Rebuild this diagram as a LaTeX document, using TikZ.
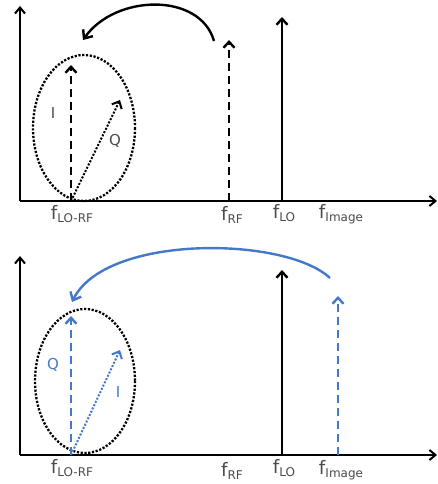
\documentclass[tikz,border=0pt]{standalone}
\usepackage{fontspec}
\setmainfont{DejaVu Sans}
\usetikzlibrary{arrows.meta}
\definecolor{txtgray}{RGB}{75,75,75}
\definecolor{oblue}{RGB}{68,120,200}
\tikzset{
  axis/.style={line width=2pt,-{Straight Barb[length=6pt,width=10pt]}},
  vec/.style={line width=2.4pt,-{Straight Barb[length=6pt,width=11pt]}},
  dashvec/.style={vec,dash pattern=on 8pt off 5pt},
  dotvec/.style={vec,line width=2pt,dash pattern=on 2pt off 1.6pt},
  lbl/.style={text=txtgray,font=\fontsize{18.5}{19}\selectfont,inner sep=0pt},
  vlbl/.style={text=txtgray,font=\fontsize{15}{16}\selectfont,inner sep=0pt},
  curvearrow/.style={line width=2.4pt,-{Straight Barb[length=7pt,width=12pt]}},
  ringline/.style={line width=2.3pt,dash pattern=on 2.2pt off 1.6pt}
}
\newcommand{\fsub}[1]{f\raisebox{-3.5pt}{\fontsize{12}{12}\selectfont #1}}
\begin{document}
\begin{tikzpicture}[x=1pt,y=-1pt]
\useasboundingbox (0,0) rectangle (437,484);
% ---------- top panel ----------
\coordinate (o1) at (20,201);
\coordinate (y1) at (20,6);
\coordinate (x1) at (437,201);
\draw[axis] (o1) -- (y1);
\draw[axis] (o1) -- (x1);
\coordinate (a1) at (71,201);
\coordinate (it) at (71,65);
\coordinate (qt) at (120,100);
\coordinate (rf1) at (229,201);
\coordinate (rft) at (229,40);
\coordinate (lo1) at (282,201);
\coordinate (lot) at (282,17);
\draw[dashvec] (a1) -- (it);
\draw[dotvec] (a1) -- (qt);
\draw[dashvec] (rf1) -- (rft);
\draw[vec] (lo1) -- (lot);
\draw[ringline] (84,128) ellipse [x radius=51, y radius=73];
\coordinate (c1s) at (214,41);
\coordinate (c1e) at (83,40);
\draw[curvearrow] (c1s) .. controls (200,-8) and (115,-6) .. (c1e);
\node[vlbl] (il1) at (53,113) {I};
\node[vlbl] (ql1) at (115,141) {Q};
\node[lbl] (fa1) at (72,214) {\fsub{LO-RF}};
\node[lbl] (fb1) at (232,215) {\fsub{RF}};
\node[lbl] (fc1) at (284,213) {\fsub{LO}};
\node[lbl] (fd1) at (341,214) {\fsub{Image}};
% ---------- bottom panel ----------
\coordinate (o2) at (20,455);
\coordinate (y2) at (20,256);
\coordinate (x2) at (437,455);
\draw[axis] (o2) -- (y2);
\draw[axis] (o2) -- (x2);
\coordinate (a2) at (71,455);
\coordinate (qt2) at (71,316);
\coordinate (it2) at (120,350);
\coordinate (lo2) at (282,455);
\coordinate (lot2) at (282,270);
\coordinate (im2) at (338,455);
\coordinate (imt2) at (338,296);
\draw[ringline] (85,381) ellipse [x radius=50, y radius=72];
\draw[dashvec,oblue] (a2) -- (qt2);
\draw[dotvec,oblue] (a2) -- (it2);
\draw[vec] (lo2) -- (lot2);
\draw[dashvec,oblue] (im2) -- (imt2);
\coordinate (c2s) at (330,278);
\coordinate (c2e) at (72,302);
\draw[curvearrow,oblue] (c2s) .. controls (285,236) and (105,234) .. (c2e);
\node[vlbl,text=oblue] (ql2) at (53,365) {Q};
\node[vlbl,text=oblue] (il2) at (118,392) {I};
\node[lbl] (fa2) at (72,468) {\fsub{LO-RF}};
\node[lbl] (fb2) at (232,471) {\fsub{RF}};
\node[lbl] (fc2) at (284,468) {\fsub{LO}};
\node[lbl] (fd2) at (341,470) {\fsub{Image}};
\end{tikzpicture}
\end{document}
